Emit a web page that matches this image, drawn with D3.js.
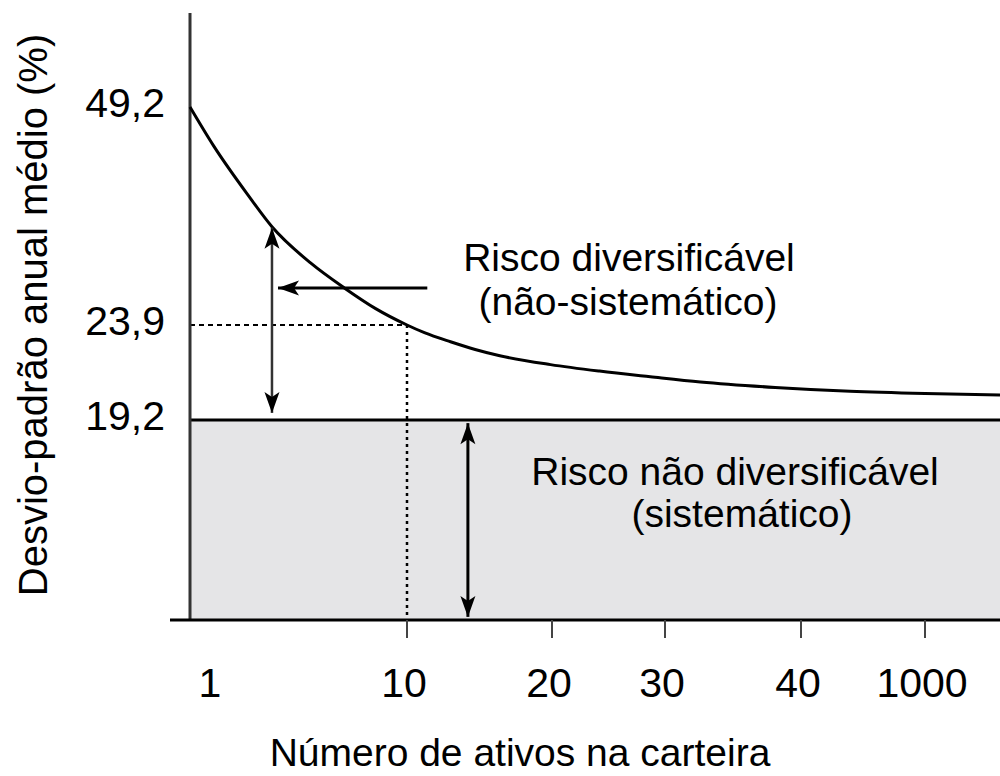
<!DOCTYPE html>
<html>
<head>
<meta charset="utf-8">
<script src="https://cdn.jsdelivr.net/npm/d3@7"></script>
<style>
  body { margin: 0; background: #fff; }
  svg { display: block; font-family: "Liberation Sans", Arial, sans-serif; }
</style>
</head>
<body>
<svg id="chart" width="1000" height="776"></svg>
<script>
// curve: number of assets vs average annual std dev (%)
const nAtivos = [1, 2, 3.4, 4.4, 6, 7.4, 8.7, 10, 11.2, 13, 14.7, 16.4, 19.9, 24.2, 28.7, 32.6, 38.1, 420, 1000, 1600];
const desvio = [49.2, 44.6, 39.0, 35.3, 31.1, 28.2, 25.8, 23.9, 23.52, 23.07, 22.69, 22.38, 21.94, 21.62, 21.34, 21.08, 20.81, 20.62, 20.51, 20.44];

const xTicks = [1, 10, 20, 30, 40, 1000];
const yTicks = [49.2, 23.9, 19.2];

const riscoSistematico = 19.2;
const nMarcado = 10;       // dotted guide at 10 assets
const desvioMarcado = 23.9;

const width = 1000;
const height = 776;

const svg = d3.select("#chart");

// schematic axes, so piecewise scales
const x = d3.scaleLinear()
    .domain([1, 10, 20, 30, 40, 1000, 1600])
    .range([190, 407, 552, 665, 801, 925, 1000]);

const y = d3.scaleLinear()
    .domain([0, 19.2, 23.9, 49.2])
    .range([620, 420, 325, 107]);

const fmt = d3.formatLocale({decimal: ",", thousands: ".", grouping: [3], currency: ["R$", ""]}).format(".1f");

const x0 = x(1), x1 = width;

// systematic risk band
svg.append("rect")
    .attr("x", x0)
    .attr("y", y(riscoSistematico))
    .attr("width", x1 - x0)
    .attr("height", y(0) - y(riscoSistematico))
    .attr("fill", "#e5e5e7");

svg.append("line")
    .attr("x1", x0).attr("x2", x1)
    .attr("y1", y(riscoSistematico)).attr("y2", y(riscoSistematico))
    .attr("stroke", "#000").attr("stroke-width", 3);

// dotted guides
svg.append("line")
    .attr("x1", x0).attr("x2", x(nMarcado))
    .attr("y1", y(desvioMarcado)).attr("y2", y(desvioMarcado))
    .attr("stroke", "#000").attr("stroke-width", 2)
    .attr("stroke-dasharray", "5,4");

svg.append("line")
    .attr("x1", x(nMarcado)).attr("x2", x(nMarcado))
    .attr("y1", y(desvioMarcado)).attr("y2", y(0))
    .attr("stroke", "#000").attr("stroke-width", 2.5)
    .attr("stroke-dasharray", "3,4");

// axes
svg.append("line")
    .attr("x1", x0).attr("x2", x0)
    .attr("y1", 13).attr("y2", y(0))
    .attr("stroke", "#333").attr("stroke-width", 3);

svg.append("line")
    .attr("x1", 170).attr("x2", x1)
    .attr("y1", y(0)).attr("y2", y(0))
    .attr("stroke", "#000").attr("stroke-width", 3);

svg.append("g")
    .selectAll("line")
    .data(xTicks.filter(d => d !== 1))
    .join("line")
    .attr("x1", d => x(d)).attr("x2", d => x(d))
    .attr("y1", y(0)).attr("y2", y(0) + 18)
    .attr("stroke", "#444").attr("stroke-width", 2);

svg.append("g")
    .attr("font-size", 41)
    .attr("text-anchor", "middle")
    .selectAll("text")
    .data(xTicks)
    .join("text")
    .attr("x", d => x(d) + (d === 1 ? 20 : -3))
    .attr("y", 697)
    .text(d => d);

svg.append("g")
    .attr("font-size", 41)
    .attr("text-anchor", "end")
    .selectAll("text")
    .data(yTicks)
    .join("text")
    .attr("x", 165)
    .attr("y", d => y(d) - 5)
    .attr("dy", "0.36em")
    .text(d => fmt(d));

svg.append("text")
    .attr("x", 520)
    .attr("y", 766)
    .attr("font-size", 39)
    .attr("text-anchor", "middle")
    .text("Número de ativos na carteira");

svg.append("text")
    .attr("transform", "translate(47,315) rotate(-90)")
    .attr("font-size", 40)
    .attr("text-anchor", "middle")
    .text("Desvio-padrão anual médio (%)");

// the curve
const pts = nAtivos.map((n, i) => [x(n), y(desvio[i])]);
svg.append("path")
    .datum(pts)
    .attr("fill", "none")
    .attr("stroke", "#000")
    .attr("stroke-width", 3)
    .attr("d", d3.line().curve(d3.curveMonotoneX));

// arrows
const defs = svg.append("defs");
defs.append("marker")
    .attr("id", "head")
    .attr("viewBox", "-22 -8 24 16")
    .attr("refX", 0).attr("refY", 0)
    .attr("markerWidth", 24).attr("markerHeight", 16)
    .attr("markerUnits", "userSpaceOnUse")
    .attr("orient", "auto-start-reverse")
    .append("path")
    .attr("d", "M0,0L-21,-7.5L-16,0L-21,7.5Z")
    .attr("fill", "#000");

function arrow(xa, ya, xb, yb, both, color, w) {
    svg.append("line")
        .attr("x1", xa).attr("y1", ya)
        .attr("x2", xb).attr("y2", yb)
        .attr("stroke", color).attr("stroke-width", w)
        .attr("marker-end", "url(#head)")
        .attr("marker-start", both ? "url(#head)" : null);
}

// diversifiable risk span
arrow(x(4.4), y(35.2), x(4.4), y(19.55), true, "#333", 2.5);
// pointer from the label to the curve
arrow(x(11.4), y(28.2), x(4.65), y(28.2), false, "#000", 3);
// systematic risk span
arrow(x(14.2), y(18.9), x(14.2), y(0.3), true, "#000", 3);

// labels
const notas = svg.append("g")
    .attr("font-size", 39)
    .attr("text-anchor", "middle");

notas.append("text").attr("x", 629).attr("y", 271).text("Risco diversificável");
notas.append("text").attr("x", 628).attr("y", 315).text("(não-sistemático)");
notas.append("text").attr("x", 735).attr("y", 485).text("Risco não diversificável");
notas.append("text").attr("x", 742).attr("y", 527).text("(sistemático)");
</script>
</body>
</html>
